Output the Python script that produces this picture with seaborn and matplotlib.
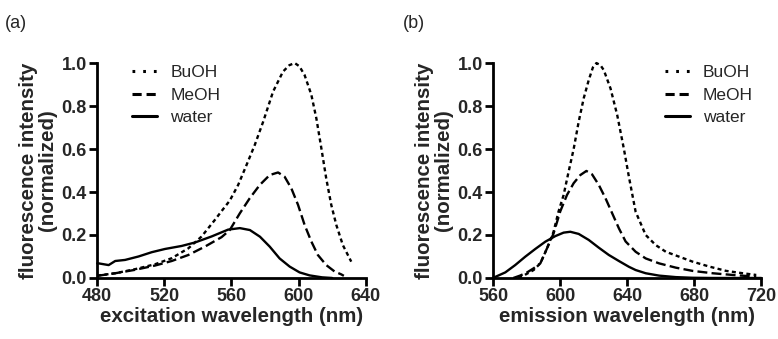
import matplotlib
matplotlib.use("Agg")
import matplotlib.pyplot as plt
import seaborn as sns
import pandas as pd

# ---- panel (a): excitation ----
exc_water_nm = [480, 480.8, 486.8, 490.7, 496.6, 504.6, 512.5, 520.4, 530.3, 538.2, 548.1, 558, 565, 571, 577,
                582.8, 588.7, 594.7, 600.6, 606.6, 614, 620]
exc_water = [0.068, 0.068, 0.06, 0.079, 0.084, 0.1, 0.12, 0.135, 0.149, 0.165, 0.193, 0.225, 0.232, 0.223, 0.192,
             0.146, 0.091, 0.053, 0.026, 0.012, 0.003, 0.0]
exc_meoh_nm = [480, 490.7, 502.6, 514.5, 524.4, 534.3, 544.2, 554.1, 559, 565, 570.9, 576.9, 582.8, 587.8, 591.7,
               595.7, 599.7, 603.6, 607.6, 611.5, 616.5, 621.5, 625.4, 627]
exc_meoh = [0.01, 0.022, 0.038, 0.058, 0.079, 0.107, 0.146, 0.19, 0.223, 0.301, 0.371, 0.433, 0.479, 0.491, 0.471,
            0.417, 0.34, 0.247, 0.17, 0.107, 0.06, 0.03, 0.017, 0.01]
exc_buoh_nm = [480, 490.7, 502.6, 514.5, 524.4, 534.3, 542.2, 550.1, 555, 559, 564, 569, 573.9, 578.9, 584.8, 590.7,
               594.5, 597.7, 600.5, 603.6, 607.6, 610.6, 613.6, 616.5, 619.5, 622.5, 626.4, 631.4]
exc_buoh = [0.011, 0.022, 0.041, 0.064, 0.092, 0.138, 0.193, 0.27, 0.32, 0.36, 0.433, 0.526, 0.619, 0.727, 0.867, 0.96,
            0.99, 1.0, 0.985, 0.944, 0.853, 0.743, 0.603, 0.463, 0.34, 0.247, 0.153, 0.076]

# ---- panel (b): emission ----
em_water_nm = [560, 561.2, 567.2, 573.1, 579.1, 585.1, 591.1, 597.1, 602, 606, 611, 617, 623, 629, 635, 641,
               645, 651, 659, 669, 679, 690, 720]
em_water = [0.002, 0.005, 0.026, 0.06, 0.099, 0.135, 0.169, 0.195, 0.211, 0.215, 0.205, 0.177, 0.141, 0.107, 0.079,
            0.052, 0.037, 0.022, 0.011, 0.004, 0.001, 0.0, 0.0]
em_meoh_nm = [572, 576, 580, 584.1, 588.1, 592.1, 596, 600, 604, 608, 612, 615.6, 619, 623, 627, 631, 635, 639,
              645, 651, 659, 669, 679, 691, 703, 717]
em_meoh = [0.0, 0.011, 0.025, 0.045, 0.068, 0.138, 0.207, 0.31, 0.386, 0.441, 0.479, 0.498, 0.482, 0.433, 0.371,
           0.301, 0.231, 0.17, 0.122, 0.091, 0.068, 0.048, 0.033, 0.022, 0.014, 0.006]
em_buoh_nm = [575, 578.1, 584.1, 588.1, 592.1, 596, 599, 602, 605, 608, 611, 614, 617, 619.5, 621.6, 624, 626, 630,
              634, 638, 641, 645, 651, 657, 663, 671, 679, 689, 699, 709, 717]
em_buoh = [0.0, 0.011, 0.037, 0.068, 0.138, 0.215, 0.31, 0.386, 0.495, 0.6, 0.727, 0.836, 0.921, 0.98, 1.0, 0.99,
           0.967, 0.882, 0.758, 0.6, 0.47, 0.308, 0.2, 0.153, 0.122, 0.099, 0.076, 0.053, 0.033, 0.022, 0.014]

solvents = ["BuOH", "MeOH", "water"]
x_ticks_a = [480, 520, 560, 600, 640]
x_ticks_b = [560, 600, 640, 680, 720]
y_ticks = [0.0, 0.2, 0.4, 0.6, 0.8, 1.0]

sns.set_theme(style="ticks")
plt.rcParams['font.family'] = ['Liberation Sans', 'DejaVu Sans']

LW = 1.7
styles = {"BuOH": (0, (1.7, 1.4)), "MeOH": (0, (4.2, 1.8)), "water": "-"}
legend_styles = {"BuOH": (0, (0.9, 2.6)), "MeOH": (0, (3.0, 1.6)), "water": "-"}

fig = plt.figure(figsize=(7.78, 3.39), dpi=100)
axa = fig.add_axes([0.125, 0.18, 0.345, 0.634])
axb = fig.add_axes([0.634, 0.18, 0.3445, 0.634])

def draw(ax, series, xticks, xlabel, legend_anchor):
    for name in solvents:
        xs, ys = series[name]
        df = pd.DataFrame({"nm": xs, "val": ys})
        sns.lineplot(data=df, x="nm", y="val", ax=ax, color="black", lw=LW,
                     linestyle=styles[name], label=name, clip_on=False)
    ax.set_xlim(xticks[0], xticks[-1])
    ax.set_ylim(0, 1.0)
    ax.set_xticks(xticks)
    ax.set_yticks(y_ticks)
    ax.set_yticklabels([f"{v:.1f}" for v in y_ticks])
    for s in ["top", "right"]:
        ax.spines[s].set_visible(False)
    for s in ["left", "bottom"]:
        ax.spines[s].set_linewidth(2)
        ax.spines[s].set_color("black")
    ax.tick_params(axis="both", direction="out", length=6, width=2, color="black",
                   labelsize=13, pad=1.5)
    for lab in ax.get_xticklabels() + ax.get_yticklabels():
        lab.set_fontweight("bold")
    ax.set_xlabel(xlabel, fontsize=14.8, fontweight="bold", labelpad=1)
    ax.set_ylabel("fluorescence intensity\n(normalized)", fontsize=14.8,
                  fontweight="bold", labelpad=3, linespacing=1.0)
    leg = ax.legend(loc="upper left", bbox_to_anchor=legend_anchor, frameon=False,
                    fontsize=12.5, handlelength=1.45, handletextpad=0.75,
                    labelspacing=0.42, borderpad=0, borderaxespad=0)
    for h, name in zip(leg.get_lines(), solvents):
        h.set_linewidth(2.2)
        h.set_linestyle(legend_styles[name])

draw(axa, {"BuOH": (exc_buoh_nm, exc_buoh), "MeOH": (exc_meoh_nm, exc_meoh),
           "water": (exc_water_nm, exc_water)}, x_ticks_a,
     "excitation wavelength (nm)", (0.13, 0.99))
draw(axb, {"BuOH": (em_buoh_nm, em_buoh), "MeOH": (em_meoh_nm, em_meoh),
           "water": (em_water_nm, em_water)}, x_ticks_b,
     "emission wavelength (nm)", (0.64, 0.99))

fig.text(0.006, 0.93, "(a)", fontsize=13, ha="left", va="center")
fig.text(0.518, 0.93, "(b)", fontsize=13, ha="left", va="center")

fig.savefig("out.png", dpi=100, facecolor="white")
